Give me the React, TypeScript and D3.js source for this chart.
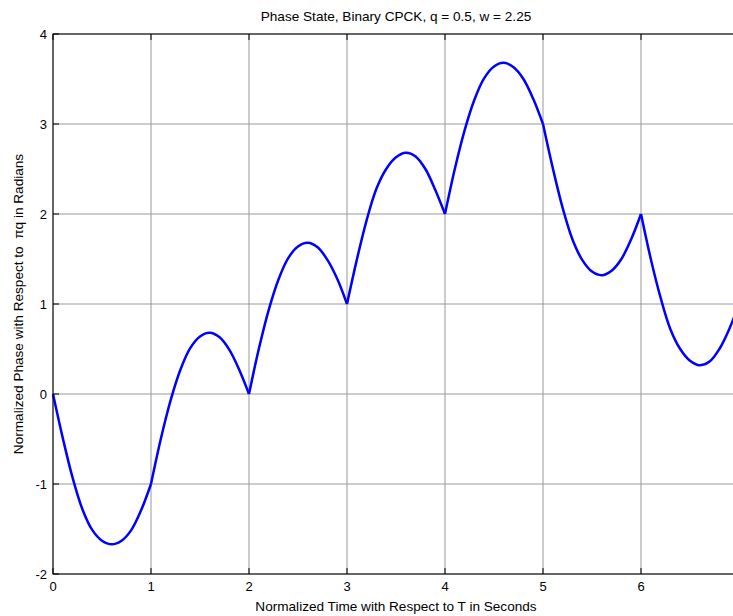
import * as d3 from "d3";
import React from "react";

// phase samples, every 0.1 T
const timeSamples = [
  0, 0.1, 0.2, 0.3, 0.4, 0.5, 0.6, 0.7, 0.8, 0.9,
  1, 1.1, 1.2, 1.3, 1.4, 1.5, 1.6, 1.7, 1.8, 1.9,
  2, 2.1, 2.2, 2.3, 2.4, 2.5, 2.6, 2.7, 2.8, 2.9,
  3, 3.1, 3.2, 3.3, 3.4, 3.5, 3.6, 3.7, 3.8, 3.9,
  4, 4.1, 4.2, 4.3, 4.4, 4.5, 4.6, 4.7, 4.8, 4.9,
  5, 5.1, 5.2, 5.3, 5.4, 5.5, 5.6, 5.7, 5.8, 5.9,
  6, 6.1, 6.2, 6.3, 6.4, 6.5, 6.6, 6.7, 6.8, 6.9, 7,
];
const phaseValues = [
  0, -0.49, -0.93, -1.28, -1.51, -1.63, -1.67, -1.63, -1.51, -1.29,
  -1, -0.5, -0.07, 0.27, 0.51, 0.64, 0.68, 0.63, 0.49, 0.27,
  0, 0.5, 0.93, 1.27, 1.51, 1.64, 1.68, 1.63, 1.49, 1.28,
  1, 1.49, 1.93, 2.28, 2.5, 2.63, 2.68, 2.64, 2.5, 2.27,
  2, 2.5, 2.93, 3.27, 3.51, 3.64, 3.68, 3.63, 3.5, 3.28,
  3, 2.51, 2.07, 1.72, 1.49, 1.36, 1.32, 1.37, 1.5, 1.72,
  2, 1.5, 1.07, 0.72, 0.5, 0.37, 0.32, 0.36, 0.5, 0.72, 1,
];
const symbolEdges = [0, 1, 2, 3, 4, 5, 6, 7];
const xTicks = [0, 1, 2, 3, 4, 5, 6];
const yTicks = [-2, -1, 0, 1, 2, 3, 4];

const W = 733;
const H = 616;
const margin = { top: 34, right: -6, bottom: 42, left: 53 };
const font = "'Liberation Sans', Arial, Helvetica, sans-serif";

export default function App() {
  const x = d3.scaleLinear().domain([0, 7]).range([margin.left, W - margin.right]);
  const y = d3.scaleLinear().domain([-2, 4]).range([H - margin.bottom, margin.top]);
  const [x0, x1] = x.range();
  const [y0, y1] = y.range();

  const points = timeSamples.map((t, i) => ({ t, v: phaseValues[i] }));
  const segments = symbolEdges.slice(0, -1).map((k, i) =>
    points.filter((p) => p.t >= k - 1e-9 && p.t <= symbolEdges[i + 1] + 1e-9)
  );

  const line = d3
    .line<{ t: number; v: number }>()
    .x((d) => x(d.t))
    .y((d) => y(d.v))
    .curve(d3.curveCatmullRom.alpha(0.5));

  const tickLen = 6;

  return (
    <div style={{ position: "absolute", left: 0, top: 0 }}>
      <svg width={W} height={H} style={{ display: "block", background: "#fff" }}>
        <rect x={0} y={0} width={W} height={H} fill="#fff" />

        {/* grid */}
        {xTicks.map((t) => (
          <line key={"gx" + t} x1={x(t)} x2={x(t)} y1={y0} y2={y1} stroke="#999" strokeWidth={1} />
        ))}
        {yTicks.map((t) => (
          <line key={"gy" + t} x1={x0} x2={x1} y1={y(t)} y2={y(t)} stroke="#999" strokeWidth={1} />
        ))}

        {/* tick marks, inside the box */}
        {xTicks.map((t) => (
          <g key={"tx" + t}>
            <line x1={x(t)} x2={x(t)} y1={y0} y2={y0 - tickLen} stroke="#000" />
            <line x1={x(t)} x2={x(t)} y1={y1} y2={y1 + tickLen} stroke="#000" />
          </g>
        ))}
        {yTicks.map((t) => (
          <g key={"ty" + t}>
            <line x1={x0} x2={x0 + tickLen} y1={y(t)} y2={y(t)} stroke="#000" />
            <line x1={x1} x2={x1 - tickLen} y1={y(t)} y2={y(t)} stroke="#000" />
          </g>
        ))}

        {/* phase trajectory */}
        {segments.map((seg, i) => (
          <path key={"s" + i} d={line(seg) ?? ""} fill="none" stroke="#0000ff" strokeWidth={2.5} strokeLinejoin="round" />
        ))}

        {/* axes box */}
        <rect x={x0} y={y1} width={x1 - x0} height={y0 - y1} fill="none" stroke="#000" strokeWidth={1} />

        {/* tick labels */}
        {xTicks.map((t) => (
          <text key={"lx" + t} x={x(t)} y={y0 + 17} textAnchor="middle" fontFamily={font} fontSize={13}>
            {t}
          </text>
        ))}
        {yTicks.map((t) => (
          <text key={"ly" + t} x={x0 - 6} y={y(t) + 4.5} textAnchor="end" fontFamily={font} fontSize={13}>
            {t}
          </text>
        ))}

        <text x={(x0 + x1) / 2} y={21} textAnchor="middle" fontFamily={font} fontSize={13.6}>
          Phase State, Binary CPCK, q = 0.5, w = 2.25
        </text>
        <text x={(x0 + x1) / 2} y={611} textAnchor="middle" fontFamily={font} fontSize={13.6}>
          Normalized Time with Respect to T in Seconds
        </text>
        <text
          transform={`translate(23,${(y0 + y1) / 2}) rotate(-90)`}
          textAnchor="middle"
          fontFamily={font}
          fontSize={13.6}
        >
          Normalized Phase with Respect to {"\u00a0"}πq in Radians
        </text>
      </svg>
    </div>
  );
}
